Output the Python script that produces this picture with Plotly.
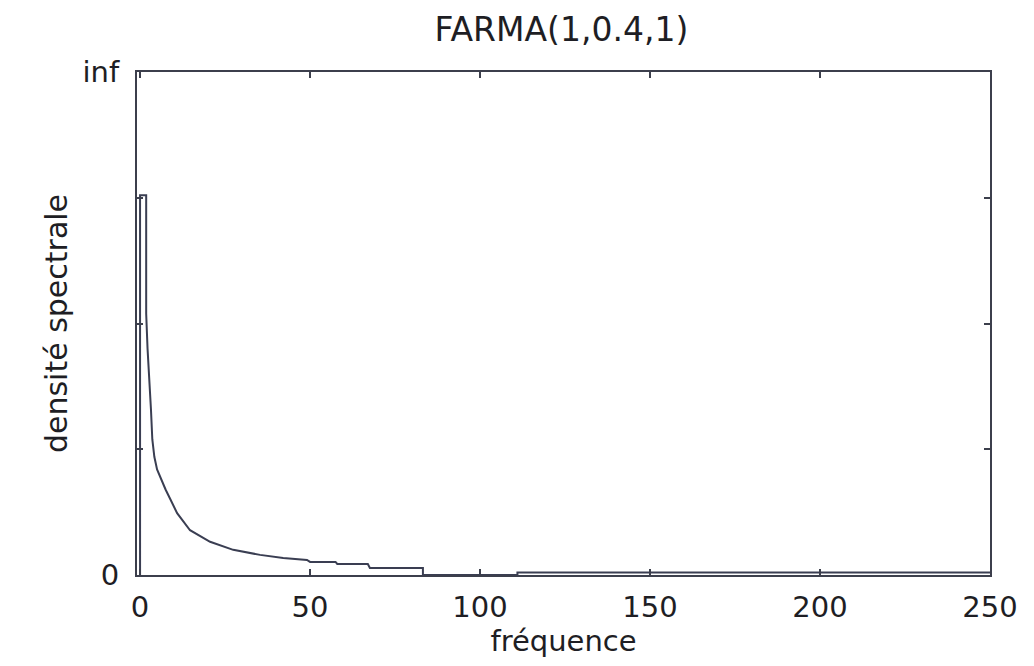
import plotly.graph_objects as go

# Spectral density of FARMA(1,0.4,1), normalised: 0 at bottom, "inf" at top
freq = [0, 0, 1.8, 1.8, 2.2, 2.7, 3.2, 3.6, 4.2, 5.0, 6.2, 7.5, 8.8, 10.9,
        14.7, 20.6, 27.4, 35.3, 42.1, 49.1, 50, 57.5, 58, 67, 67.6, 83.2,
        83.2, 111, 111, 250]
density = [0, 0.755, 0.755, 0.52, 0.45, 0.40, 0.33, 0.27, 0.235, 0.21, 0.19,
           0.17, 0.152, 0.123, 0.089, 0.066, 0.050, 0.040, 0.034, 0.030,
           0.026, 0.026, 0.022, 0.022, 0.014, 0.014, 0.0, 0.0, 0.005, 0.005]

x_ticks = [0, 50, 100, 150, 200, 250]
x_ticklabels = ["0", "50", "100", "150", "200", "250"]
y_ticks = [0, 0.25, 0.5, 0.75, 1]
y_ticklabels = ["0", "", "", "", "inf"]

axis_color = "#3c3f4c"
text_color = "#1e1e24"
font_family = "DejaVu Sans, Liberation Sans, Arial"

fig = go.Figure()
fig.add_trace(go.Scatter(x=freq, y=density, mode="lines",
                         line=dict(color="#3a3e52", width=2),
                         showlegend=False, hoverinfo="skip"))

fig.update_layout(
    width=1034, height=666,
    margin=dict(l=137, r=44, t=72, b=91),
    paper_bgcolor="white", plot_bgcolor="white",
    font=dict(family=font_family, color=text_color, size=26),
    title=dict(text="FARMA(1,0.4,1)", x=0.543, xanchor="center",
               y=1 - 29 / 666, yanchor="middle",
               font=dict(size=33, family=font_family, color=text_color)),
)

fig.update_xaxes(
    range=[-0.9, 250], tickmode="array", tickvals=x_ticks, ticktext=x_ticklabels,
    ticks="inside", ticklen=6, tickwidth=1.5, tickcolor=axis_color,
    showline=True, linecolor=axis_color, linewidth=2, mirror="ticks",
    showgrid=False, zeroline=False,
    tickfont=dict(size=29, family=font_family, color=text_color),
    ticklabelstandoff=5,
    title=dict(text="fréquence", standoff=6,
               font=dict(size=29, family=font_family, color=text_color)),
)
fig.update_yaxes(
    range=[0, 1], tickmode="array", tickvals=y_ticks, ticktext=y_ticklabels,
    ticks="inside", ticklen=6, tickwidth=1.5, tickcolor=axis_color,
    showline=True, linecolor=axis_color, linewidth=2, mirror="ticks",
    showgrid=False, zeroline=False,
    tickfont=dict(size=29, family=font_family, color=text_color),
    ticklabelstandoff=10,
    title=dict(text="densité spectrale", standoff=6,
               font=dict(size=30, family=font_family, color=text_color)),
)

fig.write_html("out.html")
